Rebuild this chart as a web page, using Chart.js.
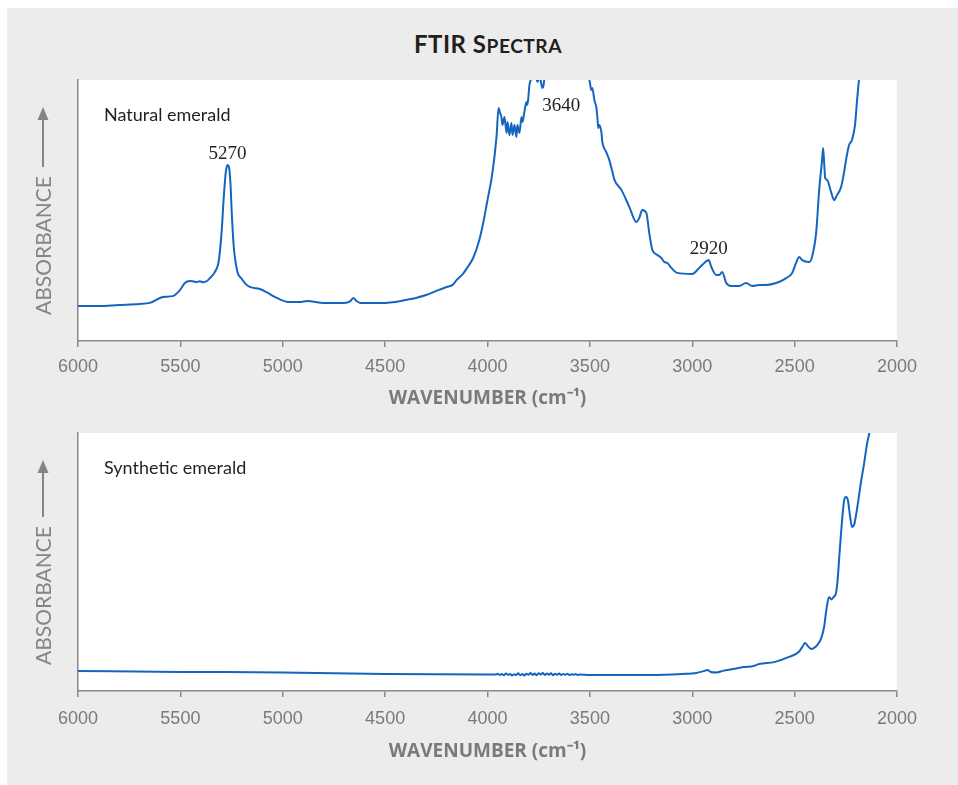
<!DOCTYPE html>
<html>
<head>
<meta charset="utf-8">
<script src="https://cdn.jsdelivr.net/npm/chart.js@4/dist/chart.umd.min.js"></script>
<style>
  html, body { margin: 0; padding: 0; background: #ffffff; }
  #page { position: relative; width: 958px; height: 785px; overflow: hidden; }
  #panel { position: absolute; left: 7px; top: 8px; right: 0; bottom: 0; background: #ececec; }
  #title { position: absolute; left: 78px; width: 820px; top: 30px; text-align: center;
           font-family: Lato, sans-serif; font-weight: 700; font-size: 24px; line-height: 28px;
           color: #231f20; letter-spacing: 0.5px; }
  #title .sc { font-size: 0.8em; text-transform: uppercase; }
  canvas { position: absolute; left: 0; }
  #natural { top: 0; }
  #synthetic { top: 420px; }
</style>
</head>
<body>
<div id="page">
  <div id="panel"></div>
  <div id="title">FTIR S<span class="sc">pectra</span></div>
  <canvas id="natural" width="958" height="420"></canvas>
  <canvas id="synthetic" width="958" height="365"></canvas>
</div>
<script>
// Wavenumber axis ticks (cm-1), drawn high to low
const tickValues = [6000, 5500, 5000, 4500, 4000, 3500, 3000, 2500, 2000];

// Natural emerald spectrum: wavenumber (cm-1) and relative absorbance
const naturalWavenumber = [
  6000, 5900, 5800, 5700, 5649, 5585, 5537, 5502, 5478, 5454,
  5435, 5420, 5405, 5390, 5370, 5356, 5332, 5312, 5298,
  5288, 5278, 5270, 5262, 5255, 5249, 5240, 5234, 5220, 5200,
  5185, 5161, 5112, 5073, 5029, 4966, 4917, 4880, 4800, 4700,
  4670, 4655, 4640, 4620, 4550, 4500, 4450, 4400, 4350, 4300,
  4250, 4200, 4170, 4150, 4120, 4100, 4070, 4040, 4020, 4000,
  3976, 3956, 3946, 3940, 3932, 3927, 3917, 3907, 3902, 3893,
  3883, 3878, 3868, 3859, 3854, 3844, 3834, 3829, 3820, 3810,
  3805, 3795, 3785, 3770, 3756, 3748, 3741, 3732, 3727, 3722,
  3700, 3640, 3560, 3510, 3502, 3493, 3488, 3478, 3468, 3463,
  3459, 3454, 3444, 3439, 3420, 3405, 3390, 3380, 3346, 3307,
  3273, 3259, 3244, 3224, 3210, 3195, 3171, 3151, 3137, 3122,
  3102, 3073, 3000, 2966, 2941, 2920, 2907, 2883, 2868, 2854,
  2834, 2810, 2771, 2737, 2707, 2673, 2639, 2590, 2541, 2512,
  2493, 2478, 2463, 2429, 2415, 2395, 2380, 2366, 2361, 2355,
  2351, 2341, 2322, 2307, 2293, 2273, 2259, 2249, 2234, 2220,
  2205, 2195, 2185, 2175, 2150
];
const naturalAbsorbance = [
  0.134, 0.134, 0.138, 0.142, 0.146, 0.169, 0.172, 0.195, 0.222, 0.230,
  0.228, 0.226, 0.229, 0.225, 0.230, 0.241, 0.264, 0.310, 0.425,
  0.552, 0.648, 0.674, 0.663, 0.598, 0.490, 0.368, 0.322, 0.261, 0.238,
  0.222, 0.207, 0.199, 0.184, 0.165, 0.149, 0.149, 0.153, 0.146, 0.146,
  0.153, 0.165, 0.153, 0.146, 0.146, 0.146, 0.149, 0.157, 0.165, 0.176,
  0.192, 0.207, 0.215, 0.234, 0.257, 0.280, 0.318, 0.387, 0.456, 0.540,
  0.644, 0.782, 0.893, 0.877, 0.858, 0.828, 0.858, 0.797, 0.839, 0.789,
  0.835, 0.789, 0.828, 0.782, 0.828, 0.797, 0.858, 0.839, 0.877, 0.916,
  0.904, 0.981, 1.008, 1.040, 0.992, 1.008, 1.000, 0.969, 0.977, 1.008,
  1.100, 1.250, 1.120, 1.020, 1.000, 0.962, 0.969, 0.923, 0.893, 0.854,
  0.816, 0.828, 0.801, 0.762, 0.724, 0.693, 0.648, 0.617, 0.579, 0.513,
  0.456, 0.471, 0.502, 0.490, 0.414, 0.349, 0.330, 0.318, 0.303, 0.299,
  0.280, 0.261, 0.257, 0.280, 0.299, 0.310, 0.284, 0.253, 0.253, 0.264,
  0.222, 0.211, 0.211, 0.222, 0.211, 0.215, 0.215, 0.222, 0.241, 0.261,
  0.299, 0.322, 0.310, 0.303, 0.322, 0.414, 0.579, 0.693, 0.739, 0.674,
  0.625, 0.617, 0.571, 0.540, 0.559, 0.590, 0.644, 0.693, 0.751, 0.770,
  0.828, 0.923, 1.008, 1.100, 1.300
];
const naturalPeaks = [5270, 3640, 2920];

// Synthetic emerald spectrum
const syntheticWavenumber = [
  6000, 5500, 5000, 4500, 4000, 3960, 3950, 3940, 3930, 3920,
  3910, 3900, 3890, 3880, 3870, 3860, 3850, 3840, 3830, 3820,
  3810, 3800, 3790, 3780, 3770, 3760, 3750, 3740, 3730, 3720,
  3710, 3700, 3690, 3680, 3670, 3660, 3650, 3640, 3630, 3620,
  3610, 3600, 3590, 3580, 3570, 3560, 3550, 3500, 3200, 3050,
  2980, 2940, 2925, 2910, 2880, 2850, 2800, 2750, 2700, 2673,
  2600, 2527, 2480, 2460, 2449, 2435, 2420, 2405, 2390, 2370,
  2356, 2345, 2332, 2320, 2310, 2298, 2290, 2283, 2268, 2258,
  2249, 2240, 2230, 2220, 2210, 2200, 2185, 2175, 2161, 2146,
  2135, 2125
];
const syntheticAbsorbance = [
  0.078, 0.074, 0.072, 0.066, 0.064, 0.064, 0.067, 0.062, 0.066, 0.061,
  0.068, 0.063, 0.066, 0.060, 0.065, 0.062, 0.069, 0.061, 0.066, 0.060,
  0.067, 0.063, 0.070, 0.062, 0.068, 0.061, 0.069, 0.064, 0.070, 0.062,
  0.068, 0.063, 0.069, 0.061, 0.067, 0.063, 0.068, 0.062, 0.066, 0.063,
  0.067, 0.062, 0.065, 0.063, 0.066, 0.062, 0.064, 0.062, 0.062, 0.066,
  0.070, 0.078, 0.081, 0.074, 0.072, 0.078, 0.085, 0.093, 0.097, 0.105,
  0.112, 0.132, 0.151, 0.174, 0.186, 0.174, 0.163, 0.167, 0.178, 0.205,
  0.248, 0.314, 0.364, 0.355, 0.364, 0.380, 0.430, 0.508, 0.663, 0.740,
  0.752, 0.740, 0.682, 0.636, 0.643, 0.682, 0.760, 0.815, 0.880, 0.960,
  1.000, 1.050
];
const syntheticPeaks = [];

const LINE = '#1565c0';
const AXIS = '#8a8a8a';
const TEXT_GREY = '#7a7a7a';

// White plotting area on the grey panel
const plotBackground = {
  id: 'plotBackground',
  beforeDraw(chart) {
    const { ctx, chartArea: a } = chart;
    ctx.save();
    ctx.fillStyle = '#ffffff';
    ctx.fillRect(a.left, a.top, a.right - a.left, a.bottom - a.top);
    ctx.restore();
  }
};

// Sample name, peak labels and the rotated absorbance label with its arrow
const spectrumText = {
  id: 'spectrumText',
  afterDraw(chart, args, o) {
    const { ctx, chartArea: a, scales } = chart;
    const ds = chart.data.datasets[0].data;
    ctx.save();

    ctx.fillStyle = '#231f20';
    ctx.font = '18px Lato, sans-serif';
    ctx.textAlign = 'left';
    ctx.textBaseline = 'middle';
    ctx.fillText(o.name, a.left + 26, a.top + 35);

    ctx.font = '19px "Liberation Serif", serif';
    ctx.textAlign = 'center';
    ctx.textBaseline = 'alphabetic';
    o.peaks.forEach(wn => {
      const pt = ds.find(p => p.x === wn);
      const py = Math.max(scales.y.getPixelForValue(pt.y), a.top + 37);
      ctx.fillText(String(wn), scales.x.getPixelForValue(wn), py - 6);
    });

    // y-axis label with upward arrow
    ctx.fillStyle = ctx.strokeStyle = '#858585';
    ctx.font = '21px Lato, sans-serif';
    const start = a.bottom - 26, tip = a.top + 27;
    ctx.translate(43, start);
    ctx.rotate(-Math.PI / 2);
    ctx.textAlign = 'left';
    ctx.textBaseline = 'middle';
    ctx.fillText('ABSORBANCE', 0, 1);
    const w = ctx.measureText('ABSORBANCE').width;
    const len = start - tip;
    ctx.lineWidth = 2;
    ctx.beginPath();
    ctx.moveTo(w + 9, 0);
    ctx.lineTo(len - 10, 0);
    ctx.stroke();
    ctx.beginPath();
    ctx.moveTo(len, 0);
    ctx.lineTo(len - 13, -5.5);
    ctx.lineTo(len - 13, 5.5);
    ctx.closePath();
    ctx.fill();
    ctx.restore();
  }
};

function spectrumChart(id, wavenumber, absorbance, opts) {
  const points = wavenumber.map((wn, i) => ({ x: wn, y: absorbance[i] }));
  return new Chart(document.getElementById(id), {
    type: 'line',
    data: {
      datasets: [{
        data: points,
        borderColor: LINE,
        borderWidth: 2,
        pointRadius: 0,
        cubicInterpolationMode: 'monotone',
        fill: false
      }]
    },
    options: {
      responsive: false,
      animation: false,
      devicePixelRatio: 1,
      events: [],
      layout: { padding: { left: 78, right: 61, top: opts.padTop, bottom: 0 } },
      plugins: {
        legend: { display: false },
        tooltip: { enabled: false },
        spectrumText: { name: opts.name, peaks: opts.peaks }
      },
      scales: {
        x: {
          type: 'linear',
          reverse: true,
          min: 2000,
          max: 6000,
          afterBuildTicks: s => { s.ticks = tickValues.map(v => ({ value: v })); },
          afterFit: s => { s.height = opts.axisHeight; },
          grid: { display: true, drawOnChartArea: false, drawTicks: true, tickLength: 6, color: AXIS, lineWidth: 1.5 },
          border: { display: true, color: AXIS, width: 1.5 },
          ticks: {
            color: TEXT_GREY,
            font: { family: '"Liberation Sans", Arial, sans-serif', size: 18 },
            padding: opts.tickPad,
            maxRotation: 0,
            autoSkip: false,
            callback: v => String(v)
          },
          title: {
            display: true,
            text: 'WAVENUMBER (cm⁻¹)',
            color: TEXT_GREY,
            font: { family: '"Open Sans", sans-serif', weight: 'bold', size: 19, lineHeight: 1.2 },
            padding: { top: 0, bottom: opts.titlePad }
          }
        },
        y: {
          min: 0,
          max: 1,
          ticks: { display: false },
          grid: { display: false },
          border: { display: true, color: AXIS, width: 1.5 },
          afterFit: s => { s.width = 0; }
        }
      }
    },
    plugins: [plotBackground, spectrumText]
  });
}

spectrumChart('natural', naturalWavenumber, naturalAbsorbance,
  { name: 'Natural emerald', peaks: naturalPeaks, padTop: 80, axisHeight: 79, titlePad: 10, tickPad: 9 });
spectrumChart('synthetic', syntheticWavenumber, syntheticAbsorbance,
  { name: 'Synthetic emerald', peaks: syntheticPeaks, padTop: 13, axisHeight: 94, titlePad: 22, tickPad: 11 });
</script>
</body>
</html>
